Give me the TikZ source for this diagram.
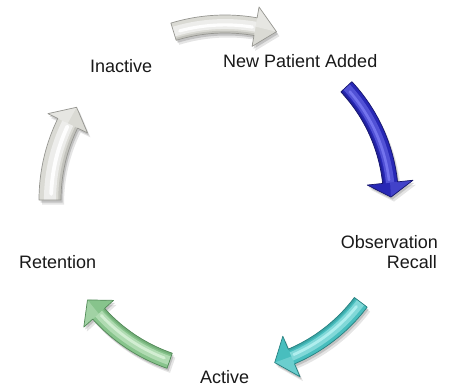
\documentclass[tikz,border=0pt]{standalone}
\usepackage{fontspec}
\setmainfont{Liberation Sans}
\definecolor{bluemain}{RGB}{40,40,182}
\definecolor{blueedge}{RGB}{22,22,110}
\definecolor{bluehi}{RGB}{115,115,238}
\definecolor{tealmain}{RGB}{72,190,190}
\definecolor{tealedge}{RGB}{38,128,128}
\definecolor{tealhi}{RGB}{175,238,238}
\definecolor{greenmain}{RGB}{135,196,140}
\definecolor{greenedge}{RGB}{82,138,88}
\definecolor{greenhi}{RGB}{210,238,210}
\definecolor{whitemain}{RGB}{218,218,212}
\definecolor{whiteedge}{RGB}{150,150,145}
\definecolor{whitehi}{RGB}{253,253,253}
\definecolor{txt}{RGB}{25,25,25}
\tikzset{lbl/.style={font=\fontsize{18}{21}\selectfont, inner sep=0pt, text=txt}}
% #1 r, #2 half width, #3 tail angle, #4 head base angle, #5 tip angle, #6 head half width
\newcommand{\ringpath}[6]{%
  plot[domain=#3:#4,samples=30] ({225+(#1+#2)*cos(\x)},{200+(#1+#2)*sin(\x)})
  -- ({225+(#1+#6)*cos(#4)},{200+(#1+#6)*sin(#4)})
  -- ({225+#1*cos(#5)},{200+#1*sin(#5)})
  -- ({225+(#1-#6)*cos(#4)},{200+(#1-#6)*sin(#4)})
  -- plot[domain=#4:#3,samples=30] ({225+(#1-#2)*cos(\x)},{200+(#1-#2)*sin(\x)})
  -- cycle}
% #7 colour name prefix
\newcommand{\ringarrow}[7]{%
  \fill[black,opacity=0.10,shift={(3,4.5)}] \ringpath{#1}{#2}{#3}{#4}{#5}{#6};
  \fill[black,opacity=0.15,shift={(1.5,2.5)}] \ringpath{#1}{#2}{#3}{#4}{#5}{#6};
  \fill[#7main] \ringpath{#1}{#2}{#3}{#4}{#5}{#6};
  \begin{scope}
    \clip \ringpath{#1}{#2}{#3}{#4}{#5}{#6};
    \draw[line width={1.1*#2}, #7hi!55!#7main]
      plot[domain={#3}:{#4},samples=30] ({225+(#1)*cos(\x)},{200+(#1)*sin(\x)});
    \draw[line width={0.35*#2}, #7hi, line cap=round]
      plot[domain={#3+2}:{#4-1},samples=30] ({225+(#1-0.1*#2)*cos(\x)},{200+(#1-0.1*#2)*sin(\x)});
    \draw[line width={0.5*#2}, #7edge, opacity=0.35]
      plot[domain={#3}:{#4},samples=30] ({225+(#1-#2)*cos(\x)},{200+(#1-#2)*sin(\x)});
    \fill[#7hi, opacity=0.35]
      ({225+(#1+#6)*cos(#4)},{200+(#1+#6)*sin(#4)})
      -- ({225+#1*cos(#5)},{200+#1*sin(#5)})
      -- ({225+#1*cos(#4)},{200+#1*sin(#4)}) -- cycle;
  \end{scope}
  \draw[#7edge, line width=0.7pt, line join=round] \ringpath{#1}{#2}{#3}{#4}{#5}{#6};
}
\begin{document}
\begin{tikzpicture}[x=1pt,y=-1pt]
\useasboundingbox[fill=white] (0,0) rectangle (453,386);
% arrows (clockwise)
\ringarrow{176}{9}{-107}{-80}{-73}{20}{white}
\ringarrow{166}{7.5}{-43}{-6}{-1}{23}{blue}
\ringarrow{170}{8}{37}{67}{73}{22}{teal}
\ringarrow{170}{8}{109}{138}{144}{20}{green}
\ringarrow{175}{11}{180}{206}{212}{22}{white}
% labels
\node[lbl, anchor=base west] (inactive) at (90,72) {Inactive};
\node[lbl, anchor=base west] (newpat) at (223,67) {New Patient Added};
\node[lbl, anchor=base east] (obs) at (438,248) {Observation};
\node[lbl, anchor=base east] (recall) at (437,268) {Recall};
\node[lbl, anchor=base west] (active) at (200,383) {Active};
\node[lbl, anchor=base west] (retention) at (19,268) {Retention};
\end{tikzpicture}
\end{document}
